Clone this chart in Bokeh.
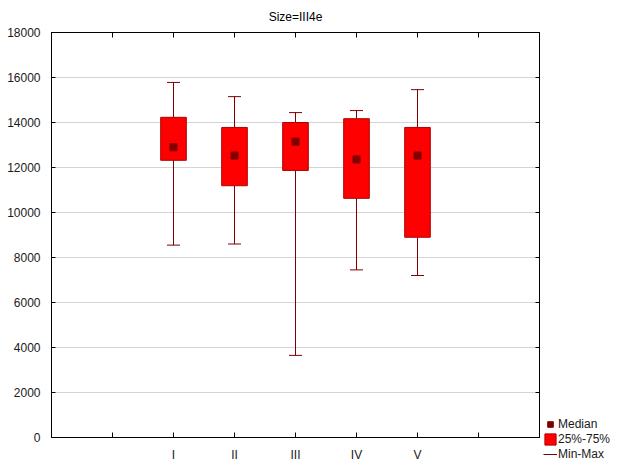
from bokeh.plotting import figure
from bokeh.layouts import row
from bokeh.models import (Range1d, FixedTicker, LinearAxis, Legend, LegendItem,
                          ColumnDataSource)
from bokeh.embed import file_html
from bokeh.resources import INLINE

# ---- data ----
groups = ["I", "II", "III", "IV", "V"]
mins = [8550, 8600, 3650, 7450, 7200]
q1 = [12320, 11190, 11870, 10630, 8900]
medians = [12900, 12530, 13150, 12360, 12530]
q3 = [14230, 13780, 14000, 14170, 13780]
maxs = [15780, 15150, 14440, 14530, 15460]
y_ticks = [0, 2000, 4000, 6000, 8000, 10000, 12000, 14000, 16000, 18000]
title_text = "Size=III4e"
legend_labels = ["Median", "25%-75%", "Min-Max"]

FONT = "Liberation Sans"
BOX_FILL = "#ff0000"
BOX_LINE = "#b00000"
DARK = "#800000"

xs = [i + 2 for i in range(len(groups))]
x_slots = list(range(1, len(groups) + 3))
overrides = {s: "" for s in x_slots}
for x, g in zip(xs, groups):
    overrides[x] = g

src = ColumnDataSource(dict(x=xs, lo=mins, q1=q1, med=medians, q3=q3, hi=maxs))

p = figure(width=543, height=464, output_backend="svg", toolbar_location=None,
           x_range=Range1d(0, len(groups) + 3), y_range=Range1d(0, 18000),
           min_border_left=51, min_border_right=4, min_border_top=32,
           min_border_bottom=26, x_axis_location=None, y_axis_location=None)

p.title.text = title_text
p.title.align = "center"
p.title.vertical_align = "middle"
p.title.offset = 17
p.title.text_font = FONT
p.title.text_font_size = "12px"
p.title.text_font_style = "normal"
p.title.text_color = "#000000"
p.title.standoff = 15

p.outline_line_color = "#000000"
p.outline_line_width = 1
p.background_fill_color = "#ffffff"
p.border_fill_color = "#ffffff"


def style_axis(ax, show_labels, tick_in):
    ax.major_tick_in = tick_in
    ax.major_tick_out = 0
    ax.minor_tick_line_color = None
    ax.axis_line_color = "#000000"
    ax.major_tick_line_color = "#000000"
    ax.major_label_text_font = FONT
    ax.major_label_text_color = "#1a1a1a"
    if show_labels:
        ax.major_label_text_font_size = "12px"
    else:
        ax.major_label_text_font_size = "1px"
        ax.major_label_standoff = 0


left = LinearAxis(ticker=FixedTicker(ticks=y_ticks))
style_axis(left, True, 4)
left.major_label_standoff = 11
p.add_layout(left, "left")

right = LinearAxis(ticker=FixedTicker(ticks=y_ticks),
                   major_label_overrides={t: "" for t in y_ticks})
style_axis(right, False, 4)
p.add_layout(right, "right")

bottom = LinearAxis(ticker=FixedTicker(ticks=x_slots), major_label_overrides=overrides)
style_axis(bottom, True, 5)
bottom.major_label_standoff = 10
p.add_layout(bottom, "below")

top = LinearAxis(ticker=FixedTicker(ticks=x_slots),
                 major_label_overrides={s: "" for s in x_slots})
style_axis(top, False, 5)
p.add_layout(top, "above")

p.xgrid.grid_line_color = None
p.ygrid.ticker = FixedTicker(ticks=y_ticks)
p.ygrid.grid_line_color = "#d4d4d4"
p.ygrid.grid_line_width = 1

# whisker stems and caps
p.segment(x0="x", y0="lo", x1="x", y1="hi", source=src,
          line_color=DARK, line_width=1)
p.scatter(x="x", y="lo", source=src, marker="dash", size=13,
          line_color=DARK, line_width=1)
p.scatter(x="x", y="hi", source=src, marker="dash", size=13,
          line_color=DARK, line_width=1)

# boxes
p.vbar(x="x", bottom="q1", top="q3", width=0.42, source=src,
       fill_color=BOX_FILL, line_color=BOX_LINE, line_width=1)

# medians
p.scatter(x="x", y="med", source=src, marker="square", size=7,
          fill_color=DARK, line_color=DARK)

# ---- legend panel (separate figure to the right of the frame) ----
lp = figure(width=77, height=464, output_backend="svg", toolbar_location=None,
            x_range=Range1d(0, 1), y_range=Range1d(0, 1),
            min_border_left=0, min_border_right=0, min_border_top=0,
            min_border_bottom=0, x_axis_location=None, y_axis_location=None)
lp.outline_line_color = None
lp.xgrid.grid_line_color = None
lp.ygrid.grid_line_color = None
lp.background_fill_color = "#ffffff"
lp.border_fill_color = "#ffffff"

# let the legend panel's frame use its whole height (no frame alignment)
for fig in (p, lp):
    if "frame_align" in fig.properties():
        fig.frame_align = False

nan = float("nan")
proxy = ColumnDataSource(dict(x=[nan], y=[nan], b=[nan], t=[nan]))
lg_med = lp.scatter(x="x", y="y", source=proxy, marker="square",
                    fill_color=DARK, line_color=DARK)
lg_box = lp.vbar(x="x", bottom="b", top="t", width=0.1, source=proxy,
                 fill_color=BOX_FILL, line_color=BOX_LINE)
lg_whisk = lp.segment(x0="x", y0="b", x1="x", y1="t", source=proxy,
                      line_color=DARK, line_width=1)

legend = Legend(items=[
    LegendItem(label=legend_labels[0], renderers=[lg_med]),
    LegendItem(label=legend_labels[1], renderers=[lg_box]),
    LegendItem(label=legend_labels[2], renderers=[lg_whisk]),
], location=(0, 3))
legend.glyph_width = 14
legend.glyph_height = 14
legend.label_height = 14
legend.label_standoff = 1
legend.spacing = 1
legend.padding = 0
legend.margin = 0
legend.border_line_color = None
legend.background_fill_alpha = 0
legend.label_text_font = FONT
legend.label_text_font_size = "12px"
legend.label_text_color = "#1a1a1a"
lp.add_layout(legend, "center")

layout = row(p, lp)
open("out.html", "w").write(file_html(layout, INLINE))
